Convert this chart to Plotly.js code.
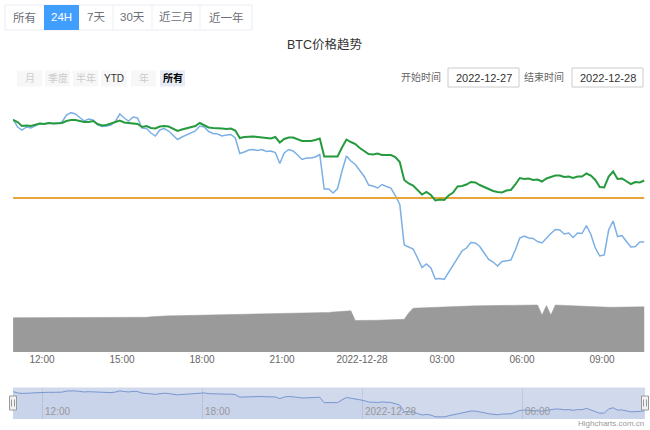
<!DOCTYPE html>
<html><head><meta charset="utf-8">
<script src="https://cdn.plot.ly/plotly-3.0.1.min.js"></script>
<style>html,body{margin:0;padding:0;background:#fff;overflow:hidden}#chart{width:650px;height:430px}</style>
</head><body><div id="chart"></div>
<script>
// ---------- data ----------
const startDay = 27;             // 2022-12-27
const startMinute = 10 * 60 + 55; // 10:55
const stepMinutes = 10;

const greenPrice = [16856,16852,16844,16845,16844,16846,16849,16848,16850,16849,
 16849,16850,16854,16856,16856,16854,16852,16852,16854,16848,
 16845,16846,16849,16852,16855,16851,16850,16850,16848,16842,
 16844,16840,16839,16843,16844,16843,16839,16834,16837,16839,
 16841,16844,16850,16846,16841,16840,16840,16839,16838,16839,
 16835,16820,16822,16823,16823,16822,16821,16819,16819,16822,
 16811,16818,16821,16821,16818,16814,16814,16814,16816,16819,
 16783,16783,16782,16783,16801,16817,16812,16808,16800,16794,
 16788,16787,16789,16786,16786,16786,16782,16772,16736,16729,
 16725,16716,16707,16712,16706,16695,16697,16696,16705,16711,
 16723,16724,16727,16732,16731,16726,16722,16718,16714,16712,
 16711,16715,16716,16727,16740,16738,16739,16736,16737,16733,
 16739,16742,16745,16745,16742,16743,16740,16743,16743,16749,
 16745,16736,16722,16721,16743,16753,16738,16739,16733,16728,
 16732,16731,16735];

const bluePrice = [16858,16842,16836,16842,16840,16844,16849,16848,16850,16849,
 16849,16852,16866,16871,16868,16861,16854,16858,16856,16847,
 16843,16844,16846,16853,16868,16860,16854,16862,16860,16840,
 16839,16830,16824,16836,16839,16834,16826,16817,16822,16826,
 16831,16834,16844,16842,16833,16829,16828,16824,16826,16827,
 16820,16789,16792,16796,16797,16795,16797,16793,16794,16791,
 16769,16790,16797,16794,16786,16777,16780,16780,16782,16787,
 16718,16718,16710,16719,16754,16784,16774,16767,16755,16743,
 16726,16724,16720,16727,16723,16720,16705,16687,16606,16602,
 16598,16580,16561,16568,16560,16538,16539,16537,16551,16564,
 16580,16594,16600,16611,16610,16603,16590,16577,16572,16564,
 16573,16575,16576,16596,16620,16624,16620,16619,16613,16610,
 16620,16629,16637,16636,16628,16630,16621,16630,16629,16645,
 16627,16600,16584,16586,16636,16654,16623,16625,16613,16602,
 16603,16612,16612];

const volume = [686,686,684,684,682,680,680,680,680,680,
 680,680,680,680,680,680,680,680,680,680,
 680,680,680,684,686,686,688,688,690,690,
 694,704,712,720,721,723,724,726,727,729,
 730,731,733,734,736,737,739,740,741,743,
 744,746,747,749,750,751,753,754,756,757,
 759,760,764,766,770,772,776,778,782,784,
 786,792,800,806,812,818,824,630,628,630,
 632,634,636,638,640,644,646,650,654,780,
 876,880,884,888,892,896,900,904,910,914,
 920,921,922,923,924,925,926,927,928,929,
 930,931,932,933,935,936,937,938,940,740,
 930,740,940,936,932,928,922,916,910,904,
 900,896,894,894,896,896,898,900,900,902,
 902,904,904];

const refPrice = 16700;

const xTickVals = ['2022-12-27 12:00','2022-12-27 15:00','2022-12-27 18:00','2022-12-27 21:00',
                   '2022-12-28 00:00','2022-12-28 03:00','2022-12-28 06:00','2022-12-28 09:00'];
const xTickText = ['12:00','15:00','18:00','21:00','2022-12-28','03:00','06:00','09:00'];
const navTickVals = ['2022-12-27 12:00','2022-12-27 18:00','2022-12-28 00:00','2022-12-28 06:00'];
const navTickText = ['12:00','18:00','2022-12-28','06:00'];
const xRange = ['2022-12-27 10:54:45','2022-12-28 10:36:45'];

const tabLabels = ['所有','24H','7天','30天','近三月','近一年'];
const activeTab = 1;
const rangeLabels = ['月','季度','半年','YTD','年','所有'];
const rangeState = ['disabled','disabled','disabled','normal','disabled','selected'];
const titleText = 'BTC价格趋势';
const startLabel = '开始时间', endLabel = '结束时间';
const startDate = '2022-12-27', endDate = '2022-12-28';
const creditText = 'Highcharts.com.cn';

// ---------- helpers ----------
function pad(n){return (n<10?'0':'')+n;}
const times = greenPrice.map((_, i) => {
  const t = startMinute + i * stepMinutes;
  const d = startDay + Math.floor(t / 1440);
  const m = t % 1440;
  return '2022-12-' + pad(d) + ' ' + pad(Math.floor(m / 60)) + ':' + pad(m % 60);
});
const W = 650, H = 430;
const X = px => px / W;
const Y = py => 1 - py / H;
const FONT = "'Liberation Sans', Arial, 'Noto Sans CJK SC', sans-serif";
function label(text, px, py, size, color, extra) {
  return Object.assign({text: text, xref: 'paper', yref: 'paper', x: X(px), y: Y(py),
    xanchor: 'center', yanchor: 'middle', showarrow: false,
    font: {family: FONT, size: size, color: color}}, extra || {});
}

// ---------- traces ----------
const traces = [
  {x: times, y: volume, yaxis: 'y2', xaxis: 'x', type: 'scatter', mode: 'lines',
   fill: 'tozeroy', fillcolor: '#9a9a9a', line: {color: '#9a9a9a', width: 0.5}, hoverinfo: 'skip'},
  {x: times, y: bluePrice, xaxis: 'x', yaxis: 'y', type: 'scatter', mode: 'lines',
   line: {color: '#7cb0e4', width: 1.5}, hoverinfo: 'skip'},
  {x: [times[0], times[times.length - 1]], y: [refPrice, refPrice], xaxis: 'x', yaxis: 'y',
   type: 'scatter', mode: 'lines', line: {color: '#eaa53a', width: 2}, hoverinfo: 'skip'},
  {x: times, y: greenPrice, xaxis: 'x', yaxis: 'y', type: 'scatter', mode: 'lines',
   line: {color: '#269a3f', width: 2}, hoverinfo: 'skip'},
  {x: times, y: bluePrice, xaxis: 'x2', yaxis: 'y3', type: 'scatter', mode: 'lines',
   fill: 'tozeroy', fillcolor: 'rgba(51,92,173,0.05)',
   line: {color: '#7896d0', width: 1}, hoverinfo: 'skip'}
];

// ---------- layout decorations ----------
const shapes = [];
const annotations = [];

// navigator background (mask over full range)
shapes.push({type: 'rect', xref: 'x2 domain', yref: 'y3 domain', x0: 0, x1: 1, y0: 0, y1: 1,
  fillcolor: '#d1daed', line: {width: 0}, layer: 'below'});

// top tabs
const tabEdges = [5, 44, 79, 113, 152, 200, 252];
shapes.push({type: 'rect', xref: 'paper', yref: 'paper', x0: X(5), x1: X(252), y0: Y(30), y1: Y(5),
  fillcolor: '#ffffff', line: {color: '#e9ecf2', width: 1}, layer: 'below'});
tabLabels.forEach((t, i) => {
  const a = tabEdges[i], b = tabEdges[i + 1];
  if (i === activeTab) {
    shapes.push({type: 'rect', xref: 'paper', yref: 'paper', x0: X(a), x1: X(b), y0: Y(30), y1: Y(5),
      fillcolor: '#409eff', line: {width: 0}});
  } else if (i > 0 && i - 1 !== activeTab) {
    shapes.push({type: 'line', xref: 'paper', yref: 'paper', x0: X(a), x1: X(a), y0: Y(30), y1: Y(5),
      line: {color: '#eceff4', width: 1}});
  }
  annotations.push(label(t, (a + b) / 2, 17.5, 11.5, i === activeTab ? '#ffffff' : '#6b6f76'));
});

// title
annotations.push(label(titleText, 325, 44, 12.5, '#333333'));

// range selector buttons
const btnEdges = [[17,42],[45,70],[73,98],[101,127],[131,156],[160,185]];
rangeLabels.forEach((t, i) => {
  const [a, b] = btnEdges[i];
  const st = rangeState[i];
  shapes.push({type: 'rect', xref: 'paper', yref: 'paper', x0: X(a), x1: X(b), y0: Y(86.5), y1: Y(70.5),
    fillcolor: st === 'selected' ? '#e6ebf5' : '#f7f7f7', line: {width: 0}});
  annotations.push(label(st === 'selected' ? '<b>' + t + '</b>' : t, (a + b) / 2, 78, 10,
    st === 'disabled' ? '#cccccc' : (st === 'selected' ? '#000000' : '#333333')));
});

// date inputs
const inputs = [[startLabel, 421, startDate, 448, 519], [endLabel, 544, endDate, 572, 643]];
inputs.forEach(([lab, lx, val, a, b]) => {
  annotations.push(label(lab, lx, 77, 10, '#666666'));
  shapes.push({type: 'rect', xref: 'paper', yref: 'paper', x0: X(a), x1: X(b), y0: Y(87), y1: Y(68),
    fillcolor: '#ffffff', line: {color: '#cccccc', width: 1}, layer: 'below'});
  annotations.push(label(val, (a + b) / 2, 77.5, 11, '#333333'));
});

// navigator tick labels (left aligned, right of grid line)
navTickVals.forEach((v, i) => {
  annotations.push({text: navTickText[i], xref: 'x2', yref: 'paper', x: v, y: Y(411.5),
    xanchor: 'left', yanchor: 'middle', xshift: 1, showarrow: false,
    font: {family: FONT, size: 10, color: '#999999'}});
});

// navigator handles
[13, 645].forEach(cx => {
  shapes.push({type: 'rect', xref: 'paper', yref: 'paper', x0: X(cx - 3.5), x1: X(cx + 3.5),
    y0: Y(410), y1: Y(396), fillcolor: '#f2f2f2', line: {color: '#999999', width: 1}});
  [-1.5, 1.5].forEach(dx => shapes.push({type: 'line', xref: 'paper', yref: 'paper',
    x0: X(cx + dx), x1: X(cx + dx), y0: Y(406.5), y1: Y(399.5), line: {color: '#999999', width: 1}}));
});

// credits
annotations.push(label(creditText, 646, 423.5, 8, '#999999', {xanchor: 'right'}));

const layout = {
  width: W, height: H, margin: {l: 0, r: 0, t: 0, b: 0},
  paper_bgcolor: '#ffffff', plot_bgcolor: 'rgba(0,0,0,0)', showlegend: false,
  font: {family: FONT},
  xaxis: {type: 'date', domain: [X(13), X(645)], anchor: 'y2', range: xRange,
    tickmode: 'array', tickvals: xTickVals, ticktext: xTickText, ticks: '', showgrid: false,
    zeroline: false, showline: false, tickfont: {family: FONT, size: 10, color: '#666666'}},
  yaxis: {domain: [Y(290), Y(100)], range: [16516, 16896], visible: false, fixedrange: true},
  yaxis2: {domain: [Y(352), Y(300)], range: [0, 1040], visible: false, fixedrange: true},
  xaxis2: {type: 'date', domain: [X(13), X(645)], anchor: 'y3', range: xRange,
    tickmode: 'array', tickvals: navTickVals, showticklabels: false, ticks: '',
    showgrid: true, gridcolor: '#c0c9db', gridwidth: 1, zeroline: false, showline: false},
  yaxis3: {domain: [Y(419), Y(387.5)], range: [16510, 16911], visible: false, fixedrange: true},
  shapes: shapes, annotations: annotations
};

Plotly.newPlot('chart', traces, layout, {staticPlot: true, displayModeBar: false});
</script></body></html>
